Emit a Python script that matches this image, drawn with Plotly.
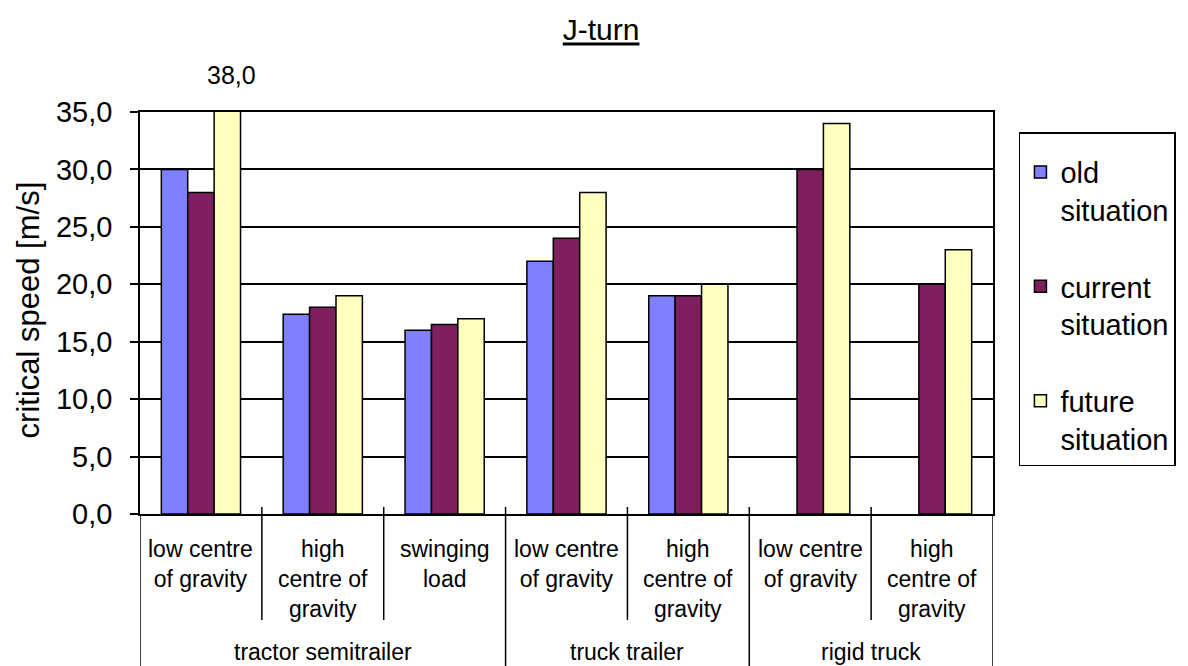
import plotly.graph_objects as go

# Sub-categories along the x axis (one per cluster of bars)
categories = [
    "low centre<br>of gravity",
    "high<br>centre of<br>gravity",
    "swinging<br>load",
    "low centre<br>of gravity",
    "high<br>centre of<br>gravity",
    "low centre<br>of gravity",
    "high<br>centre of<br>gravity",
]
# Vehicle types and how many sub-categories each one spans
vehicle_types = ["tractor semitrailer", "truck trailer", "rigid truck"]
vehicle_spans = [3, 2, 2]

# Critical speed [m/s] per scenario
old_situation = [30.0, 17.4, 16.0, 22.0, 19.0, None, None]
current_situation = [28.0, 18.0, 16.5, 24.0, 19.0, 30.0, 20.0]
future_situation = [38.0, 19.0, 17.0, 28.0, 20.0, 34.0, 23.0]

y_max = 35
y_ticks = [0, 5, 10, 15, 20, 25, 30, 35]

series = [
    ("old<br>situation", old_situation, "#8080FF"),
    ("current<br>situation", current_situation, "#7F1F5F"),
    ("future<br>situation", future_situation, "#FFFFC0"),
]

FONT = "Liberation Sans, Arial, sans-serif"
x_pos = list(range(len(categories)))
BARGAP = 0.35

fig = go.Figure()
for i, (name, vals, color) in enumerate(series):
    fig.add_trace(go.Bar(
        x=x_pos, y=vals, name=name,
        marker=dict(color=color, line=dict(color="#000000", width=1.5)),
        legendgroup=f"g{i}",
    ))

# Figure geometry (px)
W, H = 1188, 666
L, R, T, B = 140, 193, 112, 152
plot_h = H - T - B

def py(px_below_axis):
    """Paper y coordinate for a pixel offset below the x axis."""
    return -px_below_axis / plot_h

shapes = []
annotations = []

# Category labels under each cluster
for xi, lab in zip(x_pos, categories):
    annotations.append(dict(
        x=xi, y=0, xref="x", yref="paper", text=lab, showarrow=False,
        yanchor="top", yshift=-20, font=dict(size=23, color="#000000", family=FONT),
        align="center",
    ))

# Dividers between sub-categories and between vehicle types
boundaries_outer = [-0.5]
acc = -0.5
for span in vehicle_spans:
    acc += span
    boundaries_outer.append(acc)
for k in range(len(categories) + 1):
    b = k - 0.5
    if b in boundaries_outer:
        y0 = 0 if b == -0.5 or b == len(categories) - 0.5 else py(-7)
        shapes.append(dict(type="line", xref="x", yref="paper", x0=b, x1=b,
                           y0=y0, y1=py(H - (T + plot_h)), line=dict(color="#000000", width=1.5)))
    else:
        shapes.append(dict(type="line", xref="x", yref="paper", x0=b, x1=b,
                           y0=py(-7), y1=py(106), line=dict(color="#000000", width=1.5)))

# Vehicle type labels centred under their spans
start = -0.5
for name, span in zip(vehicle_types, vehicle_spans):
    annotations.append(dict(
        x=start + span / 2, y=py(138), xref="x", yref="paper", text=name,
        showarrow=False, yanchor="middle",
        font=dict(size=23, color="#000000", family=FONT),
    ))
    start += span

# Value label for bars that exceed the axis range
n_series = len(series)
bar_w = (1 - BARGAP) / n_series
for si, (name, vals, color) in enumerate(series):
    for xi, v in zip(x_pos, vals):
        if v is not None and v > y_max:
            offset = -(1 - BARGAP) / 2 + bar_w * (si + 0.5)
            annotations.append(dict(
                x=xi + offset, y=1, xref="x", yref="paper",
                text=f"{v:.1f}".replace(".", ","), showarrow=False,
                yanchor="bottom", yshift=21, xshift=4,
                font=dict(size=25, color="#000000", family=FONT),
            ))

# Y axis title
annotations.append(dict(
    x=-0.131, y=0.507, xref="paper", yref="paper", text="critical speed [m/s]",
    xanchor="center", yanchor="middle",
    textangle=-90, showarrow=False, font=dict(size=31, color="#000000", family=FONT),
))

fig.update_layout(
    width=W, height=H,
    margin=dict(l=L, r=R, t=T, b=B, pad=0),
    paper_bgcolor="#FFFFFF", plot_bgcolor="#FFFFFF",
    barmode="group", bargap=BARGAP, bargroupgap=0,
    separators=",.",
    title=dict(text="<u>J-turn</u>", x=0.506, xanchor="center", y=0.955, yanchor="middle",
               font=dict(size=30, color="#000000", family=FONT)),
    font=dict(family=FONT, color="#000000"),
    xaxis=dict(range=[-0.5, len(categories) - 0.5], showticklabels=False, ticks="",
               showgrid=False, zeroline=False, showline=True, linecolor="#000000",
               linewidth=1.5, mirror=True, fixedrange=True),
    yaxis=dict(range=[0, y_max], tickvals=y_ticks, tickformat=".1f", ticks="outside",
               ticklen=8, tickcolor="#000000", tickwidth=1.5, ticklabelstandoff=12,
               showgrid=True, gridcolor="#000000", gridwidth=1.5, zeroline=False,
               showline=True, linecolor="#000000", linewidth=1.5, mirror=True,
               tickfont=dict(size=29, color="#000000", family=FONT)),
    legend=dict(x=1.0304, xanchor="left", y=0.95, yanchor="top",
                bordercolor="#000000", borderwidth=1.5, bgcolor="#FFFFFF",
                traceorder="grouped", tracegroupgap=36, valign="top",
                title=dict(text=" ", font=dict(size=10)),
                font=dict(size=29, color="#000000", family=FONT)),
    shapes=shapes,
    annotations=annotations,
)

fig.write_html("out.html")
